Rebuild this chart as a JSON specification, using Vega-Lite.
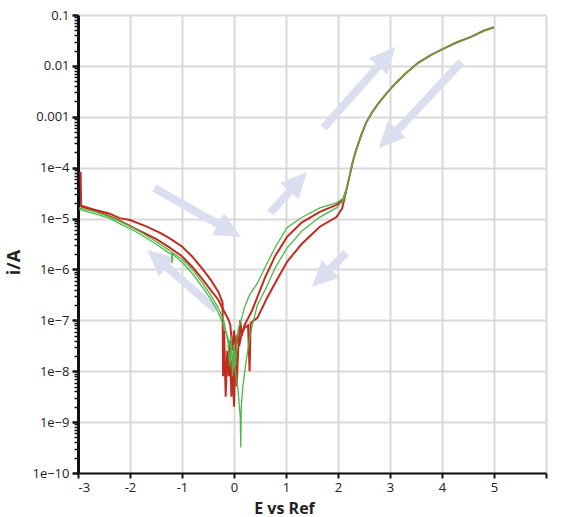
{
  "$schema": "https://vega.github.io/schema/vega-lite/v6.json",
  "width": 468,
  "height": 458,
  "autosize": "none",
  "padding": {"left": 78, "top": 15, "right": 19, "bottom": 44},
  "background": "white",
  "config": {
    "view": {"stroke": null},
    "font": "Open Sans"
  },
  "datasets": {
    "curves": [
      {"c": "U", "s": "both", "i": 1, "x": 2.16, "y": 3.63e-5},
      {"c": "U", "s": "both", "i": 2, "x": 2.22, "y": 6.6e-5},
      {"c": "U", "s": "both", "i": 3, "x": 2.28, "y": 1.26e-4},
      {"c": "U", "s": "both", "i": 4, "x": 2.35, "y": 2.24e-4},
      {"c": "U", "s": "both", "i": 5, "x": 2.45, "y": 4.47e-4},
      {"c": "U", "s": "both", "i": 6, "x": 2.54, "y": 7.59e-4},
      {"c": "U", "s": "both", "i": 7, "x": 2.65, "y": 1.2e-3},
      {"c": "U", "s": "both", "i": 8, "x": 2.78, "y": 1.86e-3},
      {"c": "U", "s": "both", "i": 9, "x": 2.95, "y": 3.02e-3},
      {"c": "U", "s": "both", "i": 10, "x": 3.11, "y": 4.57e-3},
      {"c": "U", "s": "both", "i": 11, "x": 3.3, "y": 7.08e-3},
      {"c": "U", "s": "both", "i": 12, "x": 3.54, "y": 0.0115},
      {"c": "U", "s": "both", "i": 13, "x": 3.8, "y": 0.0166},
      {"c": "U", "s": "both", "i": 14, "x": 4.05, "y": 0.0224},
      {"c": "U", "s": "both", "i": 15, "x": 4.3, "y": 0.0295},
      {"c": "U", "s": "both", "i": 16, "x": 4.56, "y": 0.0372},
      {"c": "U", "s": "both", "i": 17, "x": 4.8, "y": 0.049},
      {"c": "U", "s": "both", "i": 18, "x": 5.0, "y": 0.0575},

      {"c": "R1", "s": "red", "i": 1, "x": -2.95, "y": 8.3e-5},
      {"c": "R1", "s": "red", "i": 2, "x": -2.94, "y": 1.78e-5},
      {"c": "R1", "s": "red", "i": 3, "x": -2.7, "y": 1.51e-5},
      {"c": "R1", "s": "red", "i": 4, "x": -2.4, "y": 1.26e-5},
      {"c": "R1", "s": "red", "i": 5, "x": -2.2, "y": 1.02e-5},
      {"c": "R1", "s": "red", "i": 6, "x": -2.0, "y": 9.33e-6},
      {"c": "R1", "s": "red", "i": 7, "x": -1.7, "y": 7.08e-6},
      {"c": "R1", "s": "red", "i": 8, "x": -1.44, "y": 5.37e-6},
      {"c": "R1", "s": "red", "i": 9, "x": -1.25, "y": 4.17e-6},
      {"c": "R1", "s": "red", "i": 10, "x": -1.0, "y": 2.82e-6},
      {"c": "R1", "s": "red", "i": 11, "x": -0.8, "y": 1.78e-6},
      {"c": "R1", "s": "red", "i": 12, "x": -0.6, "y": 1.0e-6},
      {"c": "R1", "s": "red", "i": 13, "x": -0.45, "y": 6.31e-7},
      {"c": "R1", "s": "red", "i": 14, "x": -0.3, "y": 3.63e-7},
      {"c": "R1", "s": "red", "i": 15, "x": -0.22, "y": 2.24e-7},
      {"c": "R1", "s": "red", "i": 16, "x": -0.21, "y": 7.94e-9},
      {"c": "R1", "s": "red", "i": 17, "x": -0.19, "y": 6.31e-8},
      {"c": "R1", "s": "red", "i": 18, "x": -0.16, "y": 3.16e-9},
      {"c": "R1", "s": "red", "i": 19, "x": -0.13, "y": 2.51e-8},
      {"c": "R1", "s": "red", "i": 20, "x": -0.1, "y": 7.94e-9},
      {"c": "R1", "s": "red", "i": 21, "x": -0.08, "y": 3.98e-8},
      {"c": "R1", "s": "red", "i": 22, "x": -0.05, "y": 3.16e-9},
      {"c": "R1", "s": "red", "i": 23, "x": -0.03, "y": 1.58e-8},
      {"c": "R1", "s": "red", "i": 24, "x": 0.0, "y": 2.0e-9},
      {"c": "R1", "s": "red", "i": 25, "x": 0.02, "y": 1.26e-8},
      {"c": "R1", "s": "red", "i": 26, "x": 0.05, "y": 5.01e-8},
      {"c": "R1", "s": "red", "i": 27, "x": 0.1, "y": 3.16e-8},
      {"c": "R1", "s": "red", "i": 28, "x": 0.15, "y": 5.62e-8},
      {"c": "R1", "s": "red", "i": 29, "x": 0.2, "y": 7.08e-8},
      {"c": "R1", "s": "red", "i": 30, "x": 0.27, "y": 7.94e-8},
      {"c": "R1", "s": "red", "i": 31, "x": 0.3, "y": 1.0e-8},
      {"c": "R1", "s": "red", "i": 32, "x": 0.32, "y": 8.91e-8},
      {"c": "R1", "s": "red", "i": 33, "x": 0.45, "y": 1.12e-7},
      {"c": "R1", "s": "red", "i": 34, "x": 0.64, "y": 2.82e-7},
      {"c": "R1", "s": "red", "i": 35, "x": 0.8, "y": 5.62e-7},
      {"c": "R1", "s": "red", "i": 36, "x": 1.02, "y": 1.41e-6},
      {"c": "R1", "s": "red", "i": 37, "x": 1.3, "y": 3.16e-6},
      {"c": "R1", "s": "red", "i": 38, "x": 1.65, "y": 6.92e-6},
      {"c": "R1", "s": "red", "i": 39, "x": 1.97, "y": 1.07e-5},
      {"c": "R1", "s": "red", "i": 40, "x": 2.08, "y": 1.58e-5},
      {"c": "R1", "s": "red", "i": 41, "x": 2.16, "y": 3.63e-5},

      {"c": "R2", "s": "red", "i": 1, "x": 2.16, "y": 3.63e-5},
      {"c": "R2", "s": "red", "i": 2, "x": 2.1, "y": 2.4e-5},
      {"c": "R2", "s": "red", "i": 3, "x": 1.97, "y": 1.86e-5},
      {"c": "R2", "s": "red", "i": 4, "x": 1.65, "y": 1.35e-5},
      {"c": "R2", "s": "red", "i": 5, "x": 1.3, "y": 8.32e-6},
      {"c": "R2", "s": "red", "i": 6, "x": 1.02, "y": 4.37e-6},
      {"c": "R2", "s": "red", "i": 7, "x": 0.8, "y": 1.91e-6},
      {"c": "R2", "s": "red", "i": 8, "x": 0.6, "y": 7.08e-7},
      {"c": "R2", "s": "red", "i": 9, "x": 0.45, "y": 2.88e-7},
      {"c": "R2", "s": "red", "i": 10, "x": 0.35, "y": 1.58e-7},
      {"c": "R2", "s": "red", "i": 11, "x": 0.25, "y": 1.0e-7},
      {"c": "R2", "s": "red", "i": 12, "x": 0.2, "y": 7.94e-8},
      {"c": "R2", "s": "red", "i": 13, "x": 0.15, "y": 5.01e-8},
      {"c": "R2", "s": "red", "i": 14, "x": 0.12, "y": 1.0e-7},
      {"c": "R2", "s": "red", "i": 15, "x": 0.08, "y": 2.51e-8},
      {"c": "R2", "s": "red", "i": 16, "x": 0.05, "y": 5.01e-9},
      {"c": "R2", "s": "red", "i": 17, "x": 0.03, "y": 3.16e-8},
      {"c": "R2", "s": "red", "i": 18, "x": 0.0, "y": 6.31e-8},
      {"c": "R2", "s": "red", "i": 19, "x": -0.03, "y": 2.51e-8},
      {"c": "R2", "s": "red", "i": 20, "x": -0.07, "y": 7.94e-8},
      {"c": "R2", "s": "red", "i": 21, "x": -0.1, "y": 1.0e-7},
      {"c": "R2", "s": "red", "i": 22, "x": -0.2, "y": 1.58e-7},
      {"c": "R2", "s": "red", "i": 23, "x": -0.3, "y": 2.51e-7},
      {"c": "R2", "s": "red", "i": 24, "x": -0.45, "y": 3.98e-7},
      {"c": "R2", "s": "red", "i": 25, "x": -0.6, "y": 6.31e-7},
      {"c": "R2", "s": "red", "i": 26, "x": -0.8, "y": 1.12e-6},
      {"c": "R2", "s": "red", "i": 27, "x": -1.0, "y": 1.82e-6},
      {"c": "R2", "s": "red", "i": 28, "x": -1.25, "y": 2.75e-6},
      {"c": "R2", "s": "red", "i": 29, "x": -1.5, "y": 3.98e-6},
      {"c": "R2", "s": "red", "i": 30, "x": -1.9, "y": 6.31e-6},
      {"c": "R2", "s": "red", "i": 31, "x": -2.2, "y": 9.12e-6},
      {"c": "R2", "s": "red", "i": 32, "x": -2.4, "y": 1.12e-5},
      {"c": "R2", "s": "red", "i": 33, "x": -2.7, "y": 1.45e-5},
      {"c": "R2", "s": "red", "i": 34, "x": -2.95, "y": 1.74e-5},

      {"c": "G1", "s": "green", "i": 1, "x": -2.98, "y": 1.62e-5},
      {"c": "G1", "s": "green", "i": 2, "x": -2.7, "y": 1.38e-5},
      {"c": "G1", "s": "green", "i": 3, "x": -2.4, "y": 1.12e-5},
      {"c": "G1", "s": "green", "i": 4, "x": -2.2, "y": 8.91e-6},
      {"c": "G1", "s": "green", "i": 5, "x": -1.9, "y": 6.31e-6},
      {"c": "G1", "s": "green", "i": 6, "x": -1.5, "y": 3.55e-6},
      {"c": "G1", "s": "green", "i": 7, "x": -1.25, "y": 2.4e-6},
      {"c": "G1", "s": "green", "i": 8, "x": -1.0, "y": 1.58e-6},
      {"c": "G1", "s": "green", "i": 9, "x": -0.8, "y": 1.0e-6},
      {"c": "G1", "s": "green", "i": 10, "x": -0.6, "y": 5.25e-7},
      {"c": "G1", "s": "green", "i": 11, "x": -0.45, "y": 3.16e-7},
      {"c": "G1", "s": "green", "i": 12, "x": -0.3, "y": 1.74e-7},
      {"c": "G1", "s": "green", "i": 13, "x": -0.2, "y": 1.0e-7},
      {"c": "G1", "s": "green", "i": 14, "x": -0.12, "y": 3.98e-8},
      {"c": "G1", "s": "green", "i": 15, "x": -0.08, "y": 1.26e-8},
      {"c": "G1", "s": "green", "i": 16, "x": -0.05, "y": 5.01e-8},
      {"c": "G1", "s": "green", "i": 17, "x": -0.03, "y": 7.94e-9},
      {"c": "G1", "s": "green", "i": 18, "x": 0.0, "y": 3.16e-8},
      {"c": "G1", "s": "green", "i": 19, "x": 0.03, "y": 1.26e-8},
      {"c": "G1", "s": "green", "i": 20, "x": 0.06, "y": 5.01e-8},
      {"c": "G1", "s": "green", "i": 21, "x": 0.1, "y": 7.94e-8},
      {"c": "G1", "s": "green", "i": 22, "x": 0.15, "y": 1.12e-7},
      {"c": "G1", "s": "green", "i": 23, "x": 0.2, "y": 1.78e-7},
      {"c": "G1", "s": "green", "i": 24, "x": 0.3, "y": 3.16e-7},
      {"c": "G1", "s": "green", "i": 25, "x": 0.45, "y": 5.37e-7},
      {"c": "G1", "s": "green", "i": 26, "x": 0.6, "y": 1.12e-6},
      {"c": "G1", "s": "green", "i": 27, "x": 0.8, "y": 2.82e-6},
      {"c": "G1", "s": "green", "i": 28, "x": 1.02, "y": 6.61e-6},
      {"c": "G1", "s": "green", "i": 29, "x": 1.3, "y": 1.05e-5},
      {"c": "G1", "s": "green", "i": 30, "x": 1.65, "y": 1.62e-5},
      {"c": "G1", "s": "green", "i": 31, "x": 1.97, "y": 2.04e-5},
      {"c": "G1", "s": "green", "i": 32, "x": 2.1, "y": 2.51e-5},
      {"c": "G1", "s": "green", "i": 33, "x": 2.16, "y": 3.63e-5},

      {"c": "G2", "s": "green", "i": 1, "x": 2.16, "y": 3.63e-5},
      {"c": "G2", "s": "green", "i": 2, "x": 2.1, "y": 2.24e-5},
      {"c": "G2", "s": "green", "i": 3, "x": 1.97, "y": 1.62e-5},
      {"c": "G2", "s": "green", "i": 4, "x": 1.65, "y": 1.07e-5},
      {"c": "G2", "s": "green", "i": 5, "x": 1.3, "y": 5.62e-6},
      {"c": "G2", "s": "green", "i": 6, "x": 1.02, "y": 2.63e-6},
      {"c": "G2", "s": "green", "i": 7, "x": 0.8, "y": 1.12e-6},
      {"c": "G2", "s": "green", "i": 8, "x": 0.6, "y": 3.98e-7},
      {"c": "G2", "s": "green", "i": 9, "x": 0.45, "y": 2.0e-7},
      {"c": "G2", "s": "green", "i": 10, "x": 0.35, "y": 7.94e-8},
      {"c": "G2", "s": "green", "i": 11, "x": 0.3, "y": 4.47e-8},
      {"c": "G2", "s": "green", "i": 12, "x": 0.22, "y": 1.26e-8},
      {"c": "G2", "s": "green", "i": 13, "x": 0.17, "y": 5.01e-9},
      {"c": "G2", "s": "green", "i": 14, "x": 0.14, "y": 2.0e-9},
      {"c": "G2", "s": "green", "i": 15, "x": 0.13, "y": 3.16e-10},
      {"c": "G2", "s": "green", "i": 16, "x": 0.12, "y": 1.26e-9},
      {"c": "G2", "s": "green", "i": 17, "x": 0.08, "y": 3.98e-9},
      {"c": "G2", "s": "green", "i": 18, "x": 0.03, "y": 1.0e-8},
      {"c": "G2", "s": "green", "i": 19, "x": -0.03, "y": 2.0e-8},
      {"c": "G2", "s": "green", "i": 20, "x": -0.1, "y": 3.98e-8},
      {"c": "G2", "s": "green", "i": 21, "x": -0.2, "y": 7.94e-8},
      {"c": "G2", "s": "green", "i": 22, "x": -0.3, "y": 1.41e-7},
      {"c": "G2", "s": "green", "i": 23, "x": -0.45, "y": 2.63e-7},
      {"c": "G2", "s": "green", "i": 24, "x": -0.6, "y": 4.37e-7},
      {"c": "G2", "s": "green", "i": 25, "x": -0.8, "y": 8.32e-7},
      {"c": "G2", "s": "green", "i": 26, "x": -1.0, "y": 1.38e-6},
      {"c": "G2", "s": "green", "i": 27, "x": -1.18, "y": 2.0e-6},
      {"c": "G2", "s": "green", "i": 28, "x": -1.19, "y": 1.32e-6},
      {"c": "G2", "s": "green", "i": 29, "x": -1.2, "y": 2.04e-6},
      {"c": "G2", "s": "green", "i": 30, "x": -1.25, "y": 2.09e-6},
      {"c": "G2", "s": "green", "i": 31, "x": -1.5, "y": 3.16e-6},
      {"c": "G2", "s": "green", "i": 32, "x": -1.9, "y": 5.62e-6},
      {"c": "G2", "s": "green", "i": 33, "x": -2.2, "y": 7.94e-6},
      {"c": "G2", "s": "green", "i": 34, "x": -2.4, "y": 1.02e-5},
      {"c": "G2", "s": "green", "i": 35, "x": -2.7, "y": 1.26e-5},
      {"c": "G2", "s": "green", "i": 36, "x": -2.98, "y": 1.51e-5}
    ],
    "arrows": [
      {"a": 1, "x0": -1.534, "y0": 3.99e-5, "xs": -0.098, "ys": 5.9e-6, "xt": 0.133, "yt": 4.36e-6, "heading": 119},
      {"a": 2, "x0": -0.341, "y0": 1.6e-7, "xs": -1.466, "ys": 1.6e-6, "xt": -1.667, "yt": 2.42e-6, "heading": 311},
      {"a": 3, "x0": 0.7, "y0": 1.29e-5, "xs": 1.223, "ys": 5.14e-5, "xt": 1.4, "yt": 8.24e-5, "heading": 42},
      {"a": 4, "x0": 2.159, "y0": 2.11e-6, "xs": 1.686, "ys": 7.06e-7, "xt": 1.496, "yt": 4.53e-7, "heading": 226},
      {"a": 5, "x0": 1.723, "y0": 6.03e-4, "xs": 2.928, "ys": 0.0147, "xt": 3.106, "yt": 0.0235, "heading": 42},
      {"a": 6, "x0": 4.375, "y0": 0.0119, "xs": 2.968, "ys": 3.5e-4, "xt": 2.784, "yt": 2.44e-4, "heading": 224}
    ]
  },
  "layer": [
    {
      "data": {"name": "arrows"},
      "mark": {"type": "rule", "color": "#dadeee", "strokeWidth": 8},
      "encoding": {
        "x": {
          "field": "x0", "type": "quantitative",
          "scale": {"domain": [-3, 6], "nice": false, "zero": false},
          "axis": {
            "orient": "bottom",
            "values": [-3, -2.5, -2, -1.5, -1, -0.5, 0, 0.5, 1, 1.5, 2, 2.5, 3, 3.5, 4, 4.5, 5, 5.5, 6],
            "labelExpr": "(datum.value == 6 || datum.value % 1 != 0) ? '' : toString(datum.value)",
            "grid": true, "gridColor": "#d9d9d9", "gridWidth": 2,
            "gridOpacity": {"condition": {"test": "datum.value % 1 == 0", "value": 1}, "value": 0},
            "domainColor": "#111", "domainWidth": 2,
            "tickColor": "#111", "tickWidth": 2,
            "tickSize": {"condition": {"test": "datum.value % 1 == 0", "value": 5}, "value": 3},
            "labelFontSize": 13, "labelColor": "#222", "labelPadding": 3,
            "title": "E vs Ref", "titleFontSize": 16, "titleFontWeight": "bold",
            "titleColor": "#222", "titleX": 206, "titleY": 40, "titleBaseline": "alphabetic"
          }
        },
        "y": {
          "field": "y0", "type": "quantitative",
          "scale": {"type": "log", "domain": [1e-10, 0.1], "nice": false},
          "axis": {
            "orient": "left",
            "values": [1e-10, 2e-10, 3e-10, 4e-10, 5e-10, 6e-10, 7e-10, 8e-10, 9e-10,
                       1e-9, 2e-9, 3e-9, 4e-9, 5e-9, 6e-9, 7e-9, 8e-9, 9e-9,
                       1e-8, 2e-8, 3e-8, 4e-8, 5e-8, 6e-8, 7e-8, 8e-8, 9e-8,
                       1e-7, 2e-7, 3e-7, 4e-7, 5e-7, 6e-7, 7e-7, 8e-7, 9e-7,
                       1e-6, 2e-6, 3e-6, 4e-6, 5e-6, 6e-6, 7e-6, 8e-6, 9e-6,
                       1e-5, 2e-5, 3e-5, 4e-5, 5e-5, 6e-5, 7e-5, 8e-5, 9e-5,
                       1e-4, 2e-4, 3e-4, 4e-4, 5e-4, 6e-4, 7e-4, 8e-4, 9e-4,
                       0.001, 0.002, 0.003, 0.004, 0.005, 0.006, 0.007, 0.008, 0.009,
                       0.01, 0.02, 0.03, 0.04, 0.05, 0.06, 0.07, 0.08, 0.09, 0.1],
            "labelExpr": "abs(log(datum.value) / LN10 - round(log(datum.value) / LN10)) > 0.001 ? '' : (datum.value >= 0.001 ? toString(datum.value) : '1e' + format(log(datum.value) / LN10, '.0f'))",
            "grid": true, "gridColor": "#d9d9d9", "gridWidth": 2,
            "gridOpacity": {"condition": {"test": "abs(log(datum.value) / LN10 - round(log(datum.value) / LN10)) < 0.001", "value": 1}, "value": 0},
            "domainColor": "#111", "domainWidth": 3,
            "tickColor": "#111",
            "tickSize": {"condition": {"test": "abs(log(datum.value) / LN10 - round(log(datum.value) / LN10)) < 0.001", "value": 6}, "value": 4},
            "tickWidth": {"condition": {"test": "abs(log(datum.value) / LN10 - round(log(datum.value) / LN10)) < 0.001", "value": 2.5}, "value": 1.5},
            "labelFontSize": 13, "labelColor": "#222", "labelPadding": 3,
            "title": "i/A", "titleFontSize": 18, "titleFontWeight": "bold",
            "titleColor": "#222", "titleX": -59, "titleY": 247,
            "titleAngle": 270, "titleAlign": "center", "titleBaseline": "alphabetic"
          }
        },
        "x2": {"field": "xs"},
        "y2": {"field": "ys"}
      }
    },
    {
      "data": {"name": "arrows"},
      "mark": {"type": "point", "shape": "M0,0L-0.9,1.9L0.9,1.9Z", "filled": true, "color": "#dadeee", "opacity": 1, "size": 750, "strokeWidth": 0},
      "encoding": {
        "x": {"field": "xt", "type": "quantitative"},
        "y": {"field": "yt", "type": "quantitative"},
        "angle": {"field": "heading", "type": "quantitative", "scale": null}
      }
    },
    {
      "data": {"name": "curves"},
      "transform": [{"filter": "datum.s != 'green'"}],
      "mark": {"type": "line", "color": "#c32b1f", "strokeWidth": 2},
      "encoding": {
        "x": {"field": "x", "type": "quantitative"},
        "y": {"field": "y", "type": "quantitative"},
        "detail": {"field": "c"},
        "order": {"field": "i", "type": "quantitative"}
      }
    },
    {
      "data": {"name": "curves"},
      "transform": [{"filter": "datum.s != 'red'"}],
      "mark": {"type": "line", "color": "#4cb847", "strokeWidth": 1.3},
      "encoding": {
        "x": {"field": "x", "type": "quantitative"},
        "y": {"field": "y", "type": "quantitative"},
        "detail": {"field": "c"},
        "order": {"field": "i", "type": "quantitative"}
      }
    }
  ]
}
